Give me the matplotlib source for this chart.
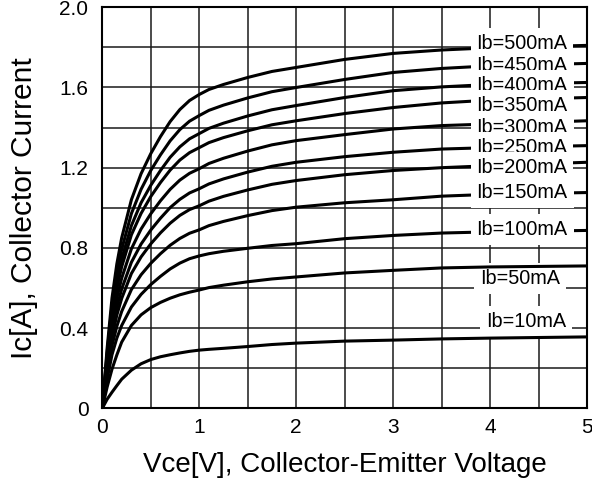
import matplotlib
matplotlib.use("Agg")
from matplotlib import pyplot as plt
from matplotlib.ticker import MultipleLocator

plt.rcParams['font.family'] = ['Liberation Sans', 'DejaVu Sans']

# Vce sample points [V]
vce = [0, 0.05, 0.1, 0.15, 0.2, 0.3, 0.4, 0.5, 0.6, 0.7, 0.8, 0.9, 1.0,
       1.1, 1.25, 1.5, 1.75, 2.0, 2.5, 3.0, 3.5, 4.0, 5.0]

# Ic [A] per base current
ic_500 = [0, 0.30, 0.55, 0.72, 0.85, 1.04, 1.17, 1.27, 1.355, 1.43, 1.49, 1.535, 1.565,
          1.59, 1.615, 1.65, 1.68, 1.70, 1.74, 1.77, 1.787, 1.798, 1.81]
ic_450 = [0, 0.280, 0.512, 0.672, 0.793, 0.971, 1.092, 1.186, 1.264, 1.334, 1.390, 1.432, 1.46,
          1.486, 1.512, 1.548, 1.579, 1.60, 1.64, 1.675, 1.695, 1.708, 1.72]
ic_400 = [0, 0.263, 0.481, 0.630, 0.744, 0.911, 1.025, 1.112, 1.186, 1.252, 1.304, 1.344, 1.37,
          1.396, 1.422, 1.458, 1.489, 1.51, 1.55, 1.584, 1.603, 1.615, 1.625]
ic_350 = [0, 0.250, 0.456, 0.598, 0.706, 0.865, 0.972, 1.056, 1.126, 1.188, 1.238, 1.275, 1.30,
          1.325, 1.350, 1.384, 1.414, 1.434, 1.47, 1.50, 1.523, 1.537, 1.55]
ic_300 = [0, 0.229, 0.419, 0.550, 0.649, 0.795, 0.894, 0.970, 1.035, 1.092, 1.138, 1.172, 1.195,
          1.221, 1.247, 1.283, 1.314, 1.335, 1.365, 1.393, 1.41, 1.418, 1.434]
ic_250 = [0, 0.210, 0.384, 0.504, 0.595, 0.728, 0.819, 0.889, 0.948, 1.001, 1.042, 1.074, 1.095,
          1.119, 1.144, 1.178, 1.207, 1.227, 1.255, 1.277, 1.293, 1.30, 1.31]
ic_200 = [0, 0.194, 0.355, 0.465, 0.548, 0.672, 0.755, 0.820, 0.875, 0.923, 0.962, 0.991, 1.01,
          1.033, 1.057, 1.089, 1.117, 1.136, 1.165, 1.186, 1.20, 1.21, 1.227]
ic_150 = [0, 0.171, 0.312, 0.409, 0.483, 0.592, 0.666, 0.723, 0.771, 0.813, 0.847, 0.873, 0.89,
          0.911, 0.932, 0.961, 0.986, 1.003, 1.025, 1.04, 1.058, 1.067, 1.076]
ic_100 = [0, 0.146, 0.267, 0.350, 0.413, 0.505, 0.568, 0.617, 0.658, 0.695, 0.724, 0.746, 0.76,
          0.771, 0.783, 0.798, 0.812, 0.821, 0.846, 0.862, 0.874, 0.88, 0.887]
ic_50 = [0, 0.106, 0.195, 0.266, 0.330, 0.413, 0.466, 0.502, 0.528, 0.549, 0.566, 0.579, 0.59,
         0.602, 0.614, 0.631, 0.645, 0.655, 0.675, 0.688, 0.70, 0.705, 0.71]
ic_10 = [0, 0.045, 0.08, 0.113, 0.145, 0.19, 0.222, 0.243, 0.257, 0.267, 0.276, 0.284, 0.29,
         0.294, 0.299, 0.308, 0.318, 0.325, 0.335, 0.34, 0.346, 0.35, 0.356]

curves = [ic_500, ic_450, ic_400, ic_350, ic_300, ic_250, ic_200, ic_150,
          ic_100, ic_50, ic_10]

labels = ["Ib=500mA", "Ib=450mA", "Ib=400mA", "Ib=350mA", "Ib=300mA",
          "Ib=250mA", "Ib=200mA", "Ib=150mA", "Ib=100mA", "Ib=50mA", "Ib=10mA"]
label_x = [3.86, 3.86, 3.86, 3.86, 3.86, 3.86, 3.86, 3.86, 3.86, 3.90, 3.96]
label_y = [1.819, 1.712, 1.608, 1.512, 1.401, 1.302, 1.202, 1.075, 0.892,
           0.647, 0.431]

fig = plt.figure(figsize=(5.92, 4.83), dpi=100)
ax = fig.add_axes([0.1728, 0.1547, 0.8188, 0.8302])

for ic in curves:
    ax.plot(vce, ic, color='black', lw=2.2, solid_joinstyle='round',
            solid_capstyle='butt', zorder=3)

for i, lab in enumerate(labels):
    # the two lowest labels sit under their curve, the rest hide it
    z = 2.5 if i >= 9 else 4
    ax.text(label_x[i], label_y[i], lab, fontsize=14.3, ha='left', va='center',
            zorder=z,
            bbox=dict(boxstyle='square,pad=0.3', facecolor='white',
                      edgecolor='none'))

ax.set_xlim(0, 5)
ax.set_ylim(0, 2.0)
ax.xaxis.set_major_locator(MultipleLocator(1))
ax.xaxis.set_minor_locator(MultipleLocator(0.5))
ax.yaxis.set_minor_locator(MultipleLocator(0.2))
ax.set_yticks([0, 0.4, 0.8, 1.2, 1.6, 2.0])
ax.set_yticklabels(["0", "0.4", "0.8", "1.2", "1.6", "2.0"])
ax.grid(True, which='both', color='#1a1a1a', lw=1.1, zorder=1)
ax.set_axisbelow(True)
ax.tick_params(which='both', length=0, labelsize=15)
ax.tick_params(axis='y', pad=10)
ax.tick_params(axis='x', pad=7)
for sp in ax.spines.values():
    sp.set_linewidth(1.5)

ax.set_xlabel("Vce[V], Collector-Emitter Voltage", fontsize=20, labelpad=11)
ax.set_ylabel("Ic[A], Collector Current", fontsize=21.5, labelpad=15)

fig.savefig("out.png", dpi=100)
